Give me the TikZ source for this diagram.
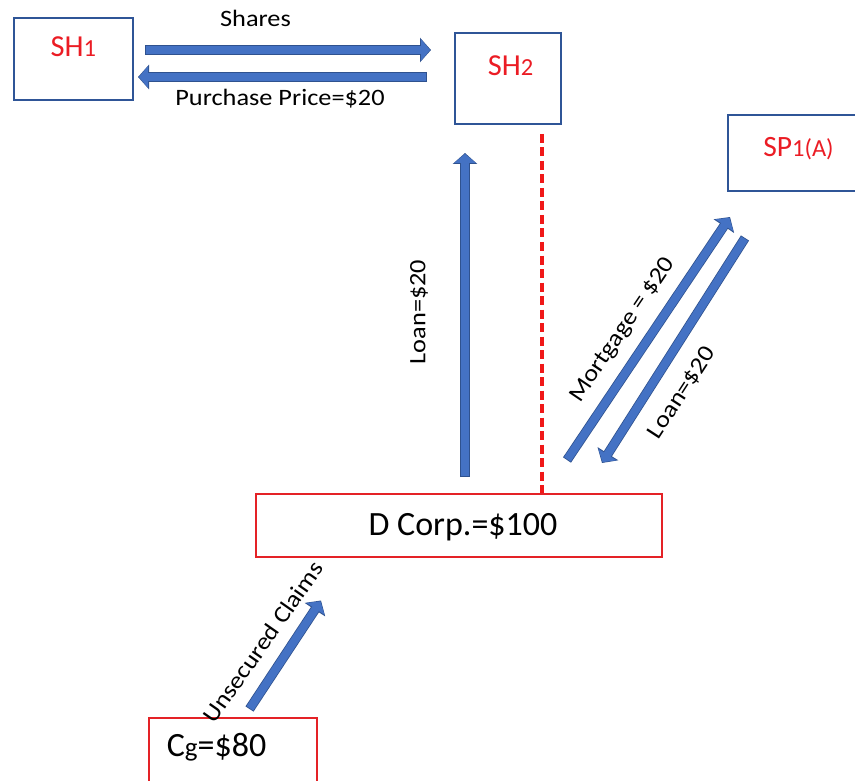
\documentclass[tikz,border=0pt]{standalone}
\usepackage{fontspec}
\setmainfont{Carlito}
\newfontfamily\lblfont[FakeStretch=1.12]{Carlito}
\usetikzlibrary{arrows.meta,calc}
\definecolor{arrowblue}{RGB}{68,114,196}
\definecolor{edgeblue}{RGB}{47,82,143}
\definecolor{boxblue}{RGB}{47,85,151}
\definecolor{boxred}{RGB}{228,34,38}
\definecolor{txtred}{RGB}{235,28,36}
\definecolor{linkred}{RGB}{240,24,24}
\newcommand{\fsz}[1]{\fontsize{#1}{#1}\selectfont}

\begin{document}
\begin{tikzpicture}[x=1pt,y=-1pt,
  bluebox/.style={draw=boxblue,line width=2pt,inner sep=0pt},
  redbox/.style={draw=boxred,line width=1.8pt,inner sep=0pt},
  partytext/.style={anchor=base,inner sep=0pt,text=txtred},
  valtext/.style={anchor=base,inner sep=0pt,text=black},
  flowtext/.style={inner sep=0pt,text=black,font=\lblfont\fsz{23.5}},
  flow/.style={draw=arrowblue,line width=8pt,shorten <=0.8pt,shorten >=1pt,
    -{Triangle[length=9pt,width=21pt]},
    preaction={draw=edgeblue,line width=9.6pt,shorten <=0pt,shorten >=0pt,
      -{Triangle[length=11pt,width=24pt]}}},
  tie/.style={draw=linkred,line width=3.5pt,dash pattern=on 9pt off 4.5pt}
]
\useasboundingbox (0,0) rectangle (855,781);
\clip (0,0) rectangle (855,781);

% parties
\node[bluebox,minimum width=119pt,minimum height=82pt] (sh1) at (73.5,59.5) {};
\node[bluebox,minimum width=106pt,minimum height=91pt] (sh2) at (508,78.5) {};
\node[bluebox,minimum width=144pt,minimum height=76pt] (sp1) at (800,153) {};
\node[redbox,minimum width=406pt,minimum height=63pt] (dcorp) at (459,525.5) {};
\node[redbox,minimum width=168pt,minimum height=90pt] (cg) at (233,763) {};

\node[partytext] (sh1lbl) at (73.3,57) {\fsz{30.5}SH\fsz{24.5}1};
\node[partytext] (sh2lbl) at (510.5,76) {\fsz{30.5}SH\fsz{24.5}2};
\node[partytext] (sp1lbl) at (798.5,156.7) {\fsz{29.5}SP\fsz{24.5}1(A)};
\node[valtext] (dcorplbl) at (463,535) {\fsz{34}D Corp.=\$100};
\node[valtext] (cglbl) at (216.5,756) {\fsz{34}C\fsz{27}g\fsz{34}=\$80};

% arrow end points
\coordinate (sharesA) at (145,50);
\coordinate (sharesB) at (431,50);
\coordinate (priceA) at (427,77);
\coordinate (priceB) at (138,77);
\coordinate (loanA) at (465,477);
\coordinate (loanB) at (465,153);
\coordinate (mortA) at (567,460);
\coordinate (mortB) at (730,217);
\coordinate (loandA) at (745,238);
\coordinate (loandB) at (602,463);
\coordinate (unsecA) at (249.5,709);
\coordinate (unsecB) at (321,600.5);
\coordinate (tieA) at (542,134);

% flows
\draw[flow] (sharesA) -- (sharesB);
\draw[flow] (priceA) -- (priceB);
\draw[flow] (loanA) -- (loanB);
\draw[flow] (mortA) -- (mortB);
\draw[flow] (loandA) -- (loandB);
\draw[flow] (unsecA) -- (unsecB);

% link between SH2 and D Corp.
\draw[tie] (tieA) -- (tieA |- dcorp.north);

% flow labels
\node[flowtext,anchor=base] (shareslbl) at (255.5,27) {Shares};
\node[flowtext,anchor=base] (pricelbl) at (280,106) {Purchase Price=\$20};
\node[flowtext,rotate=90] (loanlbl) at (419,312) {Loan=\$20};
\node[flowtext,rotate=56] (mortlbl) at (623,330) {Mortgage = \$20};
\node[flowtext,rotate=57] (loandlbl) at (682,393) {Loan=\$20};
\node[flowtext,rotate=55] (unseclbl) at (263,642) {Unsecured Claims};
\end{tikzpicture}
\end{document}
